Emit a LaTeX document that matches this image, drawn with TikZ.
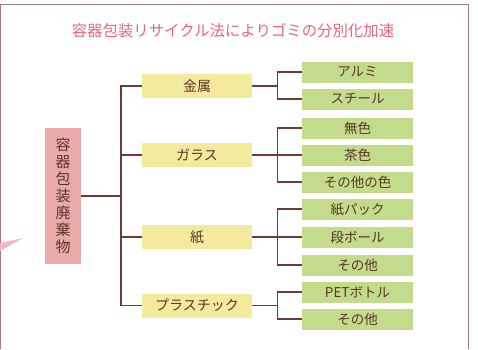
\documentclass[tikz,border=0pt]{standalone}
\usepackage{fontspec}
\setmainfont{Noto Sans CJK JP}
\usepackage{xcolor}
\usetikzlibrary{positioning, calc}

\definecolor{framebrown}{HTML}{A57A7A}
\definecolor{linebrown}{HTML}{6E3B36}
\definecolor{textbrown}{HTML}{5C3426}
\definecolor{titlepink}{HTML}{EC6479}
\definecolor{rootpink}{HTML}{EBAAAA}
\definecolor{catyellow}{HTML}{F4EA9E}
\definecolor{itemgreen}{HTML}{C2DC8C}
\definecolor{wedgepink}{HTML}{F7B5C4}

\begin{document}
\begin{tikzpicture}[x=1pt, y=-1pt]
    \tikzstyle{root} = [rectangle, fill=rootpink, text=textbrown, minimum width=36pt, minimum height=136pt, inner sep=0pt, align=center, font=\fontsize{15}{17}\selectfont]
    \tikzstyle{cat} = [rectangle, fill=catyellow, text=textbrown, minimum width=110pt, minimum height=24pt, inner sep=0pt, font=\fontsize{14}{14}\selectfont]
    \tikzstyle{item} = [rectangle, fill=itemgreen, text=textbrown, minimum width=111pt, minimum height=21pt, inner sep=0pt, font=\fontsize{13.5}{14}\selectfont]
    \tikzstyle{link} = [draw=linebrown, line width=1.1pt]

    \useasboundingbox (0,0) rectangle (478,349);

    % Frame and bubble tail
    \draw[framebrown, line width=1.2pt] (0.6,349) -- (0.6,4.5) -- (468.5,4.5) -- (468.5,349);
    \fill[wedgepink] (0,243) -- (23,238) -- (0,251) -- cycle;

    % Title
    \node[text=titlepink, font=\fontsize{15.4}{16}\selectfont] (title) at (233,31) {容器包装リサイクル法によりゴミの分別化加速};

    % Root
    \node[root] (waste) at (63,196) {容\\器\\包\\装\\廃\\棄\\物};
    \coordinate (trunk) at (121,196);

    % Categories
    \node[cat] (metal) at (197,86) {金属};
    \node[cat] (glass) at (197,155) {ガラス};
    \node[cat] (paper) at (197,237) {紙};
    \node[cat] (plastic) at (197,305.5) {プラスチック};

    % Items
    \node[item] (alu) at (357.5,72) {アルミ};
    \node[item] (steel) at (357.5,99) {スチール};
    \node[item] (clear) at (357.5,128) {無色};
    \node[item] (brown) at (357.5,155) {茶色};
    \node[item] (othercol) at (357.5,182) {その他の色};
    \node[item] (pack) at (357.5,209) {紙パック};
    \node[item] (board) at (357.5,237) {段ボール};
    \node[item] (otherpaper) at (357.5,265) {その他};
    \node[item] (pet) at (357.5,292) {PETボトル};
    \node[item] (otherplastic) at (357.5,319) {その他};

    % Forks
    \coordinate (metalfork) at ([xshift=25pt]metal.east);
    \coordinate (glassfork) at ([xshift=25pt]glass.east);
    \coordinate (paperfork) at ([xshift=25pt]paper.east);
    \coordinate (plasticfork) at ([xshift=25pt]plastic.east);

    % Lines
    \draw[link] (waste.east) -- (trunk);
    \draw[link] (metal.west) -| (trunk);
    \draw[link] (glass.west) -| (trunk);
    \draw[link] (paper.west) -| (trunk);
    \draw[link] (plastic.west) -| (trunk);

    \draw[link] (metal.east) -- (metalfork);
    \draw[link] (alu.west) -| (metalfork);
    \draw[link] (steel.west) -| (metalfork);
    \draw[link] (glass.east) -- (glassfork);
    \draw[link] (clear.west) -| (glassfork);
    \draw[link] (brown.west) -| (glassfork);
    \draw[link] (othercol.west) -| (glassfork);
    \draw[link] (paper.east) -- (paperfork);
    \draw[link] (pack.west) -| (paperfork);
    \draw[link] (board.west) -| (paperfork);
    \draw[link] (otherpaper.west) -| (paperfork);
    \draw[link] (plastic.east) -- (plasticfork);
    \draw[link] (pet.west) -| (plasticfork);
    \draw[link] (otherplastic.west) -| (plasticfork);
\end{tikzpicture}
\end{document}
